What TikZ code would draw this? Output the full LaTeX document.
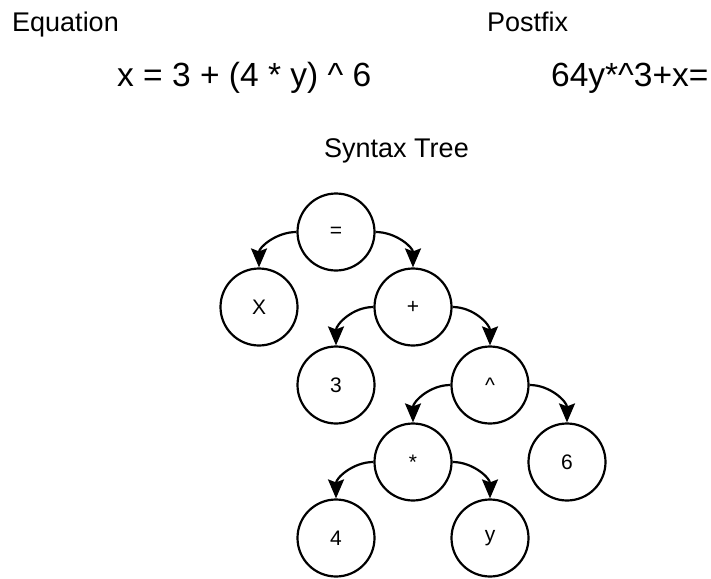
\documentclass[tikz,border=0pt]{standalone}
\usepackage{fontspec}
\setmainfont{Liberation Sans}
\usetikzlibrary{arrows.meta}
\tikzset{
  treenode/.style={circle, draw=black, line width=2.2pt, fill=white, minimum size=77pt, inner sep=0pt, font=\fontsize{21}{24}\selectfont},
  edge/.style={line width=2.2pt, -{Stealth[length=19pt,width=16pt,inset=3pt]}},
  title/.style={anchor=base west, inner sep=0pt, font=\fontsize{27}{30}\selectfont},
  expr/.style={anchor=base west, inner sep=0pt, font=\fontsize{33.5}{36}\selectfont}
}
\begin{document}
\begin{tikzpicture}[x=1pt,y=-1pt]
\useasboundingbox (0,0) rectangle (711,578);
\node[title] (eqlabel) at (12,32) {Equation};
\node[title] (pflabel) at (487,32) {Postfix};
\node[expr] (eq) at (117,86) {x = 3 + (4 * y) \textasciicircum{} 6};
\node[expr] (pf) at (551,86) {64y*\textasciicircum{}3+x=};
\node[title] (st) at (324,157) {Syntax Tree};

\node[treenode] (eqn) at (336,232) {=};
\node[treenode] (x) at (259,307) {X};
\node[treenode] (plus) at (413,307) {+};
\node[treenode] (three) at (336,385) {3};
\node[treenode] (pow) at (490,385) {\textasciicircum};
\node[treenode] (mul) at (413,462) {*};
\node[treenode] (six) at (567,462) {6};
\node[treenode] (four) at (336,538) {4};
\node[treenode] (y) at (490,538) {y};

\draw[edge] (eqn.west) to[out=180,in=90] (x.north);
\draw[edge] (eqn.east) to[out=0,in=90] (plus.north);
\draw[edge] (plus.west) to[out=180,in=90] (three.north);
\draw[edge] (plus.east) to[out=0,in=90] (pow.north);
\draw[edge] (pow.west) to[out=180,in=90] (mul.north);
\draw[edge] (pow.east) to[out=0,in=90] (six.north);
\draw[edge] (mul.west) to[out=180,in=90] (four.north);
\draw[edge] (mul.east) to[out=0,in=90] (y.north);
\end{tikzpicture}
\end{document}
